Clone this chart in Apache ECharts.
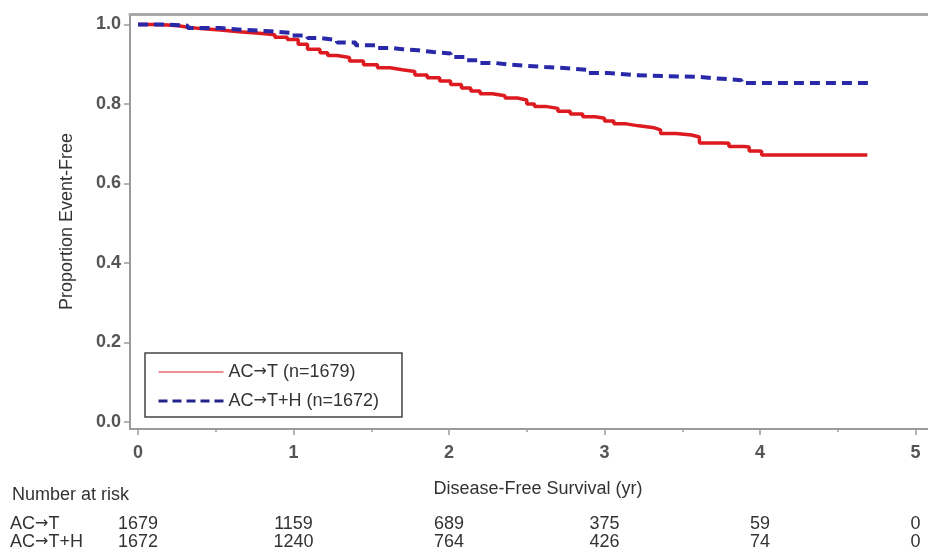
<!DOCTYPE html>
<html>
<head>
<meta charset="utf-8">
<script src="https://cdn.jsdelivr.net/npm/echarts@6/dist/echarts.min.js"></script>
<style>
html, body { margin: 0; padding: 0; background: #fff; }
#main { width: 928px; height: 553px; }
</style>
</head>
<body>
<div id="main"></div>
<script>
// Kaplan-Meier curves (years, proportion event-free)
const redTimes = [0, 0.10, 0.19, 0.26, 0.32, 0.42, 0.53, 0.65, 0.78, 0.88, 0.96, 1.03, 1.09, 1.17, 1.22, 1.28, 1.36, 1.45, 1.54, 1.62, 1.70, 1.78, 1.86, 1.94, 2.01, 2.08, 2.14, 2.20, 2.28, 2.36, 2.44, 2.50, 2.55, 2.62, 2.70, 2.78, 2.86, 2.94, 3.00, 3.06, 3.14, 3.22, 3.32, 3.36, 3.46, 3.56, 3.61, 3.76, 3.80, 3.90, 3.93, 3.99, 4.01, 4.69];
const redSurv = [1.000, 0.999, 0.997, 0.993, 0.989, 0.986, 0.982, 0.978, 0.974, 0.968, 0.962, 0.950, 0.938, 0.929, 0.922, 0.917, 0.908, 0.899, 0.891, 0.886, 0.882, 0.873, 0.866, 0.858, 0.849, 0.840, 0.833, 0.826, 0.821, 0.815, 0.810, 0.800, 0.794, 0.789, 0.782, 0.775, 0.768, 0.764, 0.757, 0.750, 0.745, 0.740, 0.735, 0.726, 0.722, 0.717, 0.702, 0.701, 0.693, 0.692, 0.682, 0.681, 0.672, 0.672];

const blueTimes = [0, 0.19, 0.32, 0.53, 0.70, 0.85, 0.98, 1.09, 1.17, 1.28, 1.40, 1.54, 1.62, 1.70, 1.80, 1.90, 2.01, 2.10, 2.20, 2.30, 2.39, 2.50, 2.62, 2.76, 2.89, 3.02, 3.18, 3.40, 3.61, 3.70, 3.88, 4.73];
const blueSurv = [1.000, 0.997, 0.991, 0.986, 0.983, 0.979, 0.972, 0.966, 0.961, 0.955, 0.948, 0.941, 0.938, 0.935, 0.931, 0.927, 0.918, 0.910, 0.903, 0.899, 0.896, 0.893, 0.890, 0.886, 0.878, 0.873, 0.870, 0.868, 0.865, 0.860, 0.853, 0.853];

const seriesNames = ['AC\u2192T (n=1679)', 'AC\u2192T+H (n=1672)'];
const rowNames = ['AC\u2192T', 'AC\u2192T+H'];

const xTicks = [0, 1, 2, 3, 4, 5];
const xMinorTicks = [0.5, 1.5, 2.5, 3.5, 4.5];
const yTicks = [0, 0.2, 0.4, 0.6, 0.8, 1.0];

// number at risk at each year tick
const riskRed = [1679, 1159, 689, 375, 59, 0];
const riskBlue = [1672, 1240, 764, 426, 74, 0];

const FONT = '"Liberation Sans", Arial, sans-serif';
const X_MIN = -0.0514, X_MAX = 5.08;
const Y_MIN = -0.0176, Y_MAX = 1.0264;

// the arrow glyph of Liberation Sans is tiny, take it from DejaVu
const arrowRich = { a: { fontFamily: '"DejaVu Sans"', fontSize: 16, color: '#333' } };
const withArrow = (s) => s.replace('\u2192', '{a|\u2192}');

function zip(a, b) {
  return a.map((v, i) => [v, b[i]]);
}

function riskAxis(values, offset) {
  return {
    type: 'value', min: X_MIN, max: X_MAX, position: 'bottom', offset: offset,
    axisLine: { show: false, onZero: false }, axisTick: { show: false }, splitLine: { show: false },
    axisLabel: {
      customValues: xTicks, margin: 8,
      color: '#333', fontFamily: FONT, fontSize: 18,
      formatter: (v) => String(values[xTicks.indexOf(Math.round(v))])
    }
  };
}

const chart = echarts.init(document.getElementById('main'));
chart.setOption({
  animation: false,
  backgroundColor: '#fff',
  grid: { left: 130, right: 0, top: 14, bottom: 124 },
  legend: {
    left: 145, top: 353,
    orient: 'vertical',
    backgroundColor: '#fff',
    borderColor: '#444', borderWidth: 1.5,
    padding: [10, 23, 7, 12],
    itemWidth: 65, itemHeight: 14, itemGap: 11,
    textStyle: { fontFamily: FONT, fontSize: 18, color: '#333', lineHeight: 18, rich: arrowRich },
    formatter: withArrow,
    data: [
      { name: seriesNames[0], lineStyle: { color: '#ee8d98', width: 2 }, itemStyle: { opacity: 0 } },
      { name: seriesNames[1], lineStyle: { color: '#22228a', width: 3, type: [9, 5] }, itemStyle: { opacity: 0 } }
    ]
  },
  xAxis: [
    {
      type: 'value', min: X_MIN, max: X_MAX, position: 'bottom',
      name: 'Disease-Free Survival (yr)', nameLocation: 'middle', nameGap: 51,
      nameTextStyle: { fontFamily: FONT, fontSize: 18, color: '#333', padding: [0, 0, 0, 18] },
      axisLine: { onZero: false, lineStyle: { color: '#9a9a9a', width: 2 } },
      axisTick: { customValues: xTicks, length: 6, lineStyle: { color: '#9a9a9a', width: 1.5 } },
      axisLabel: {
        customValues: xTicks, margin: 15,
        color: '#555', fontFamily: FONT, fontSize: 18, fontWeight: 'bold'
      },
      splitLine: { show: false }
    },
    {
      type: 'value', min: X_MIN, max: X_MAX, position: 'bottom',
      axisLine: { show: false, onZero: false },
      axisTick: { customValues: xMinorTicks, length: 3, lineStyle: { color: '#9a9a9a', width: 1.5 } },
      axisLabel: { show: false }, splitLine: { show: false }
    },
    {
      type: 'value', min: X_MIN, max: X_MAX, position: 'top',
      axisLine: { onZero: false, lineStyle: { color: '#a8a8a8', width: 3 } },
      axisTick: { show: false }, axisLabel: { show: false }, splitLine: { show: false }
    },
    riskAxis(riskRed, 78),
    riskAxis(riskBlue, 96)
  ],
  yAxis: [{
    type: 'value', min: Y_MIN, max: Y_MAX,
    name: 'Proportion Event-Free', nameLocation: 'middle', nameGap: 54,
    nameTextStyle: { fontFamily: FONT, fontSize: 18, color: '#333' },
    axisLine: { show: true, onZero: false, lineStyle: { color: '#9a9a9a', width: 2 } },
    axisTick: { show: true, customValues: yTicks, length: 6, lineStyle: { color: '#9a9a9a', width: 1.5 } },
    axisLabel: {
      customValues: yTicks, margin: 9,
      color: '#555', fontFamily: FONT, fontSize: 18, fontWeight: 'bold',
      formatter: (v) => v.toFixed(1)
    },
    splitLine: { show: false }
  }],
  graphic: [
    { type: 'text', left: 12, top: 486, style: { text: 'Number at risk', fill: '#333', font: '18px ' + FONT } },
    { type: 'text', left: 10, top: 515, style: { text: withArrow(rowNames[0]), fill: '#333', font: '18px ' + FONT, rich: arrowRich } },
    { type: 'text', left: 10, top: 533, style: { text: withArrow(rowNames[1]), fill: '#333', font: '18px ' + FONT, rich: arrowRich } }
  ],
  series: [
    {
      name: seriesNames[0], type: 'line', step: 'end', symbol: 'none',
      xAxisIndex: 0, yAxisIndex: 0,
      lineStyle: { color: '#dc1a1f', width: 3.5 },
      itemStyle: { color: '#dc1a1f' },
      data: zip(redTimes, redSurv)
    },
    {
      name: seriesNames[1], type: 'line', step: 'end', symbol: 'none',
      xAxisIndex: 0, yAxisIndex: 0,
      lineStyle: { color: '#2828a8', width: 4, type: [10, 6] },
      itemStyle: { color: '#2828a8' },
      data: zip(blueTimes, blueSurv)
    }
  ]
});
</script>
</body>
</html>
